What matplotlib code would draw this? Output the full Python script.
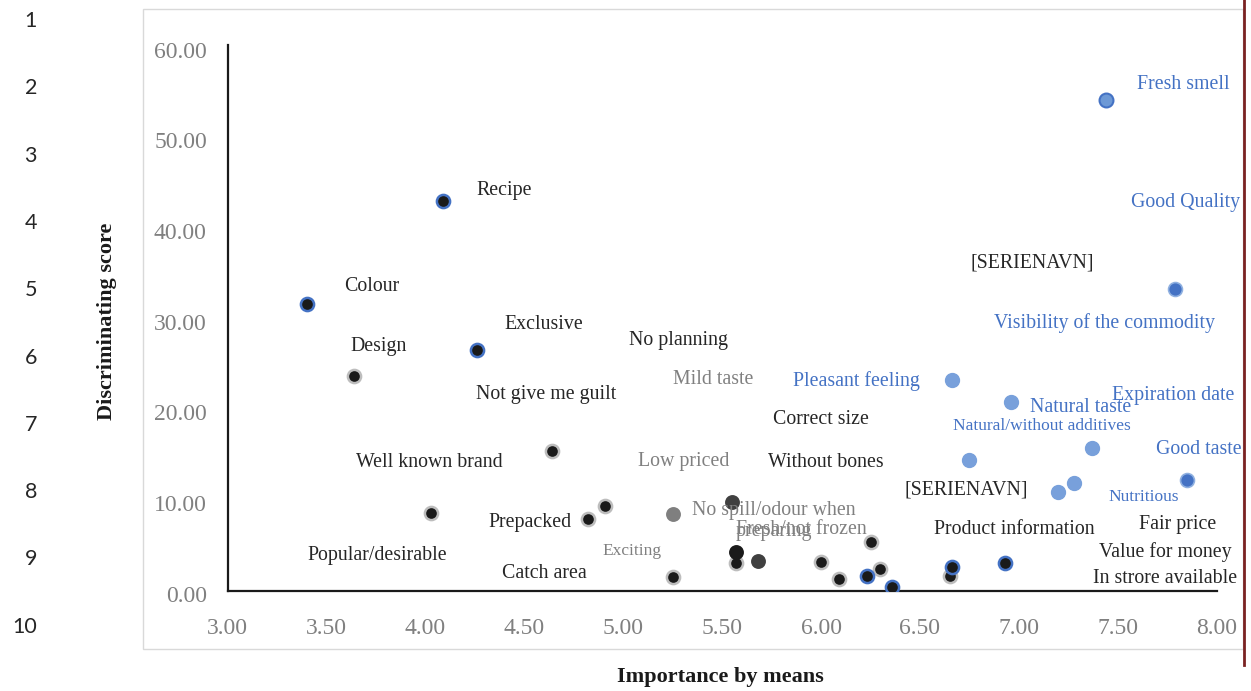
import matplotlib
matplotlib.use("Agg")
import matplotlib.pyplot as plt
from matplotlib.patches import Rectangle
from matplotlib.lines import Line2D
from matplotlib.transforms import ScaledTranslation

# ---- data (importance mean, discriminating score) ----
# light blue attributes
blue_x = [6.66, 6.96, 6.75, 7.37, 7.28, 7.20]
blue_y = [23.2, 20.8, 14.4, 15.7, 11.9, 10.9]
# highlighted blue attributes
fresh_x, fresh_y = [7.44], [54.1]
dark_blue_x = [7.79, 7.85]
dark_blue_y = [33.3, 12.2]
# black points with blue outline
bk_blue_x = [4.09, 3.40, 4.26, 6.23, 6.36, 6.66, 6.93]
bk_blue_y = [43.0, 31.6, 26.5, 1.62, 0.41, 2.61, 3.05]
# black points with grey outline
bk_grey_x = [3.64, 4.64, 4.03, 4.82, 4.91, 5.25, 5.57, 6.00, 6.09, 6.25, 6.30, 6.65]
bk_grey_y = [23.7, 15.4, 8.57, 7.90, 9.34, 1.51, 3.05, 3.16, 1.29, 5.37, 2.39, 1.62]
# grey-toned points
dgrey_x = [5.55, 5.68]
dgrey_y = [9.78, 3.27]
mgrey_x, mgrey_y = [5.25], [8.46]
black_x, black_y = [5.57], [4.27]

# ---- labels: text, position, colour group, size group ----
labels = [
    ("Fresh smell", 7.83, 56.1, "b", "n"),
    ("Good Quality", 7.845, 43.1, "b", "n"),
    ("[SERIENAVN]", 7.066, 36.5, "k", "n"),
    ("Visibility of the commodity", 7.435, 29.8, "b", "n"),
    ("Pleasant feeling", 6.18, 23.45, "b", "n"),
    ("Expiration date", 7.78, 21.9, "b", "n"),
    ("Natural taste", 7.31, 20.5, "b", "n"),
    ("Natural/without additives", 7.117, 18.5, "b", "s"),
    ("Good taste", 7.91, 15.95, "b", "n"),
    ("Nutritious", 7.63, 10.66, "b", "s"),
    ("[SERIENAVN]", 6.733, 11.43, "k", "n"),
    ("Fair price", 7.80, 7.68, "k", "n"),
    ("Product information", 6.975, 7.13, "k", "n"),
    ("Value for money", 7.74, 4.6, "k", "n"),
    ("In strore available", 7.74, 1.73, "k", "n"),
    ("Recipe", 4.40, 44.5, "k", "n"),
    ("Colour", 3.73, 33.9, "k", "n"),
    ("Exclusive", 4.60, 29.7, "k", "n"),
    ("Design", 3.765, 27.3, "k", "n"),
    ("No planning", 5.28, 27.9, "k", "n"),
    ("Mild taste", 5.455, 23.6, "g", "n"),
    ("Not give me guilt", 4.61, 22.0, "k", "n"),
    ("Correct size", 6.0, 19.26, "k", "n"),
    ("Well known brand", 4.02, 14.5, "k", "n"),
    ("Low priced", 5.307, 14.6, "g", "n"),
    ("Without bones", 6.025, 14.5, "k", "n"),
    ("No spill/odour when\npreparing", 5.76, 8.0, "g", "n"),
    ("Fresh/not frozen", 5.90, 7.13, "g", "n"),
    ("Prepacked", 4.53, 7.8, "k", "n"),
    ("Popular/desirable", 3.755, 4.16, "k", "n"),
    ("Exciting", 5.044, 4.7, "g", "s"),
    ("Catch area", 4.60, 2.28, "k", "n"),
]

xticks = [3.0, 3.5, 4.0, 4.5, 5.0, 5.5, 6.0, 6.5, 7.0, 7.5, 8.0]
yticks = [0, 10, 20, 30, 40, 50, 60]
row_numbers = [str(i) for i in range(1, 11)]

BLUE = "#4472c4"
LIGHT_BLUE = "#78a0db"
TEXT_K = "#262626"
TEXT_G = "#808080"
colours = {"b": BLUE, "k": TEXT_K, "g": TEXT_G}
sizes = {"n": 14.3, "s": 12.5}

plt.rcParams["font.family"] = ["Liberation Serif", "DejaVu Serif"]

fig = plt.figure(figsize=(12.51, 6.91), dpi=100)
W, H = 1251, 691

# chart frame and page edge
fig.patches.append(Rectangle((143 / W, 1 - 649 / H), 1100 / W, 640 / H,
                             transform=fig.transFigure, fill=False,
                             edgecolor="#d9d9d9", linewidth=1.0))
fig.lines.append(Line2D([1244 / W, 1244 / W], [1, 1 - 665 / H],
                        transform=fig.transFigure, color="#7a2222", linewidth=2))

# row numbers down the left margin
for i, t in enumerate(row_numbers):
    fig.text(37 / W, 1 - (21 + i * 67.3) / H, t, ha="right", va="center",
             fontsize=15.5, family="Lato", color=TEXT_K)

ax = fig.add_axes([227.7 / W, 1 - 590.7 / H, 989 / W, 546 / H])
ax.set_xlim(3, 8)
ax.set_ylim(0, 60.2)

ax.scatter(blue_x, blue_y, s=100, color=LIGHT_BLUE, edgecolors=LIGHT_BLUE, zorder=3)
ax.scatter(fresh_x, fresh_y, s=100, color="#6d99d6", edgecolors=BLUE, linewidths=1.5, zorder=3)
ax.scatter(dark_blue_x, dark_blue_y, s=100, color=BLUE, edgecolors="#8fb0e0", linewidths=1.2, zorder=3)
ax.scatter(bk_grey_x, bk_grey_y, s=90, color="#1a1a1a", edgecolors="#bdbdbd", linewidths=1.8, zorder=3)
ax.scatter(bk_blue_x, bk_blue_y, s=90, color="#1a1a1a", edgecolors=BLUE, linewidths=1.8, zorder=4)
ax.scatter(dgrey_x, dgrey_y, s=115, color="#404040", linewidths=0, zorder=3)
ax.scatter(mgrey_x, mgrey_y, s=115, color="#7f7f7f", linewidths=0, zorder=3)
ax.scatter(black_x, black_y, s=115, color="#1a1a1a", linewidths=0, zorder=4)

# labels sit a few pixels lower than their anchor, as in the source chart
for text, lx, ly, c, sz in labels:
    ax.annotate(text, (lx, ly), xytext=(0, -3), textcoords="offset pixels",
                ha="center", va="center", color=colours[c],
                fontsize=sizes[sz], linespacing=1.15, zorder=5)

ax.set_xticks(xticks)
ax.set_xticklabels([f"{v:.2f}" for v in xticks])
ax.set_yticks(yticks)
ax.set_yticklabels([f"{v:.2f}" for v in yticks])
ax.tick_params(length=0, labelsize=17, labelcolor="#808080")
ax.tick_params(axis="x", pad=20)
ax.tick_params(axis="y", pad=15)
down = ScaledTranslation(0, -3 / 100, fig.dpi_scale_trans)
for lab in ax.get_yticklabels():
    lab.set_transform(lab.get_transform() + down)

for side in ("top", "right"):
    ax.spines[side].set_visible(False)
for side in ("left", "bottom"):
    ax.spines[side].set_color("#1a1a1a")
    ax.spines[side].set_linewidth(1.6)

fig.text(720 / W, 1 - 677 / H, "Importance by means", ha="center", va="center",
         fontsize=16, fontweight="bold", color="#1a1a1a")
fig.text(107 / W, 1 - 321 / H, "Discriminating score", ha="center", va="center",
         rotation=90, fontsize=16, fontweight="bold", color="#1a1a1a")

fig.savefig("out.png", dpi=100)
